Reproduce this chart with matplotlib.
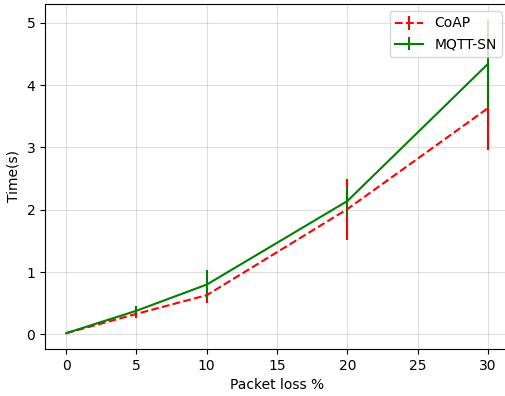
import matplotlib
matplotlib.use("Agg")
import matplotlib.pyplot as plt

# Packet loss levels and measured times
loss = [0, 5, 10, 20, 30]
coap = [0.02, 0.33, 0.63, 2.01, 3.63]
coap_err = [0.0, 0.07, 0.12, 0.49, 0.67]
mqtt = [0.02, 0.38, 0.80, 2.14, 4.34]
mqtt_err = [0.0, 0.07, 0.24, 0.23, 0.71]

fig, ax = plt.subplots(figsize=(5.06, 3.96), dpi=100)
ax.errorbar(loss, coap, yerr=coap_err, color="red", linestyle="--", label="CoAP")
ax.errorbar(loss, mqtt, yerr=mqtt_err, color="green", linestyle="-", label="MQTT-SN")
ax.set_xlabel("Packet loss %")
ax.set_ylabel("Time(s)")
ax.grid(True, alpha=0.4)
ax.legend(loc="upper right")
# the original image is cropped a few pixels on the right
plt.subplots_adjust(left=0.089, right=1.006, bottom=0.119, top=0.99)
plt.savefig("out.png")
